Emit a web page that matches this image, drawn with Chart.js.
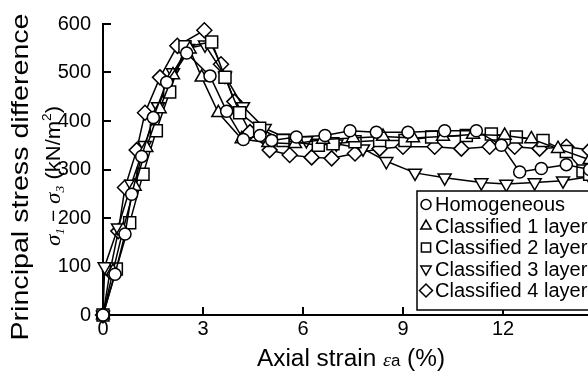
<!DOCTYPE html>
<html>
<head>
<meta charset="utf-8">
<script src="https://cdn.jsdelivr.net/npm/chart.js@4/dist/chart.umd.min.js"></script>
<style>
html,body{margin:0;padding:0;background:#fff;overflow:hidden;width:588px;height:376px;}
canvas{display:block;}
</style>
</head>
<body>
<canvas id="c" width="620" height="376" style="width:620px;height:376px"></canvas>
<script>
// ---- Data (axial strain %, principal stress difference kN/m2) ----
const seriesNames = ["Homogeneous","Classified 1 layer","Classified 2 layer","Classified 3 layer","Classified 4 layer"];

const homX = [0,0.36,0.66,0.86,1.16,1.51,1.91,2.51,3.21,3.71,4.21,4.71,5.06,5.8,6.66,7.41,8.2,9.15,10.25,11.2,11.95,12.5,13.15,13.9,14.6];
const homY = [0,84,167,249,327,407,480,540,493,420,362,370,360,367,370,380,377,377,380,380,350,295,302,310,300];

const c1X = [0,0.3,0.6,0.95,1.3,1.7,2.1,2.6,2.96,3.46,4.16,4.96,5.76,6.6,7.5,8.4,9.3,10.2,11.1,12.05,12.85,13.65,14.6];
const c1Y = [0,90,175,265,345,425,495,548,490,417,363,355,353,362,365,368,365,368,372,370,363,343,320];

const c2X = [0,0.4,0.8,1.2,1.6,2.0,2.46,3.26,3.66,4.1,4.7,5.4,6.46,6.9,7.56,8.3,9.06,9.86,10.9,11.65,12.4,13.2,13.9,14.4,14.6];
const c2Y = [0,95,190,290,380,460,553,563,490,417,385,360,350,353,357,360,360,367,370,373,367,360,337,297,290];

const c3X = [0,0.05,0.45,0.85,1.25,1.65,2.1,2.55,3.06,3.66,4.2,4.85,5.5,6.1,7.0,7.8,8.5,9.36,10.25,11.35,12.1,12.95,13.8,14.6];
const c3Y = [0,100,180,270,350,430,500,550,557,493,430,385,365,360,353,343,317,293,283,273,270,273,277,285];

const c4X = [0,0.21,0.46,0.66,1.01,1.26,1.71,2.23,3.04,3.54,3.94,4.41,5.0,5.6,6.26,6.86,7.56,8.3,9.0,9.95,10.75,11.6,12.35,13.1,13.9,14.6];
const c4Y = [0,90,173,263,340,417,490,555,587,517,440,377,340,330,325,323,333,343,347,347,343,347,347,343,347,340];

const xTicks = [0,3,6,9,12,15];
const yTicks = [0,100,200,300,400,500,600];

const styles = [
  {pointStyle:'circle', radius:6, rotation:0},
  {pointStyle:'triangle', radius:7.5, rotation:0},
  {pointStyle:'rect', radius:8.5, rotation:0},
  {pointStyle:'triangle', radius:7.5, rotation:180},
  {pointStyle:'rectRot', radius:7.5, rotation:0}
];
const xs = [homX,c1X,c2X,c3X,c4X];
const ys = [homY,c1Y,c2Y,c3Y,c4Y];

const datasets = seriesNames.map((n,i)=>({
  label:n,
  data: xs[i].map((x,k)=>({x:x,y:ys[i][k]})),
  showLine:true,
  borderColor:'#000',
  borderWidth:1.5,
  backgroundColor:'#fff',
  pointBackgroundColor:'#fff',
  pointBorderColor:'#000',
  pointBorderWidth:1.5,
  pointStyle:styles[i].pointStyle,
  pointRadius:styles[i].radius,
  pointRotation:styles[i].rotation,
  tension:0,
  clip:false
}));

const FONT = "'Liberation Sans', Arial, sans-serif";
const SERIF = "'Liberation Serif', 'Times New Roman', serif";

function drawMarker(ctx, style, r, rot, x, y){
  ctx.save();
  ctx.fillStyle='#fff'; ctx.strokeStyle='#000'; ctx.lineWidth=1.5;
  ctx.beginPath();
  if(style==='circle'){ ctx.arc(x,y,r,0,Math.PI*2); }
  else if(style==='rect'){ const s=r*Math.SQRT1_2; ctx.rect(x-s,y-s,2*s,2*s); }
  else if(style==='rectRot'){ ctx.moveTo(x-r,y); ctx.lineTo(x,y-r); ctx.lineTo(x+r,y); ctx.lineTo(x,y+r); ctx.closePath(); }
  else if(style==='triangle'){
    let a = rot*Math.PI/180;
    for(let k=0;k<3;k++){
      const px = x + Math.sin(a)*r, py = y - Math.cos(a)*r;
      if(k===0) ctx.moveTo(px,py); else ctx.lineTo(px,py);
      a += 2*Math.PI/3;
    }
    ctx.closePath();
  }
  ctx.fill(); ctx.stroke();
  ctx.restore();
}

function drawSegments(ctx, segs, target){
  let w=0;
  segs.forEach(s=>{ctx.font=s[1]; s.w=ctx.measureText(s[0]).width; w+=s.w;});
  const sc = target ? target/w : 1;
  ctx.save();
  ctx.scale(sc,1);
  let x=-w/2;
  segs.forEach(s=>{ctx.font=s[1]; ctx.fillText(s[0],x,s[2]||0); x+=s.w;});
  ctx.restore();
}

const customPlugin = {
  id:'custom',
  beforeDatasetsDraw(chart){
    const ctx=chart.ctx, xa=chart.scales.x, ya=chart.scales.y, ca=chart.chartArea;
    ctx.save();
    ctx.strokeStyle='#000'; ctx.lineWidth=2;
    ctx.beginPath();
    xa.ticks.forEach(t=>{const p=Math.round(xa.getPixelForValue(t.value)); ctx.moveTo(p,ca.bottom); ctx.lineTo(p,ca.bottom-8);});
    ya.ticks.forEach(t=>{const p=Math.round(ya.getPixelForValue(t.value)); ctx.moveTo(ca.left,p); ctx.lineTo(ca.left+8,p);});
    ctx.stroke();
    ctx.restore();
  },
  afterDraw(chart){
    const ctx=chart.ctx, ca=chart.chartArea;
    // Legend box
    ctx.save();
    const L=417, T=191, B=310, R=660;
    ctx.fillStyle='#fff'; ctx.fillRect(L,T,R-L,B-T);
    ctx.strokeStyle='#000'; ctx.lineWidth=1.5; ctx.strokeRect(L,T,R-L,B-T);
    ctx.fillStyle='#000'; ctx.font='20px '+FONT; ctx.textBaseline='middle'; ctx.textAlign='left';
    const lsz=[5,6,6.5,6,6.5];
    seriesNames.forEach((n,i)=>{
      const y=T+13.5+i*21.5;
      drawMarker(ctx, styles[i].pointStyle, lsz[i], styles[i].rotation, 426, y);
      ctx.fillStyle='#000';
      ctx.fillText(n, 435, y+1);
    });
    ctx.restore();

    // X axis title
    ctx.save();
    ctx.fillStyle='#000'; ctx.textBaseline='alphabetic'; ctx.textAlign='left';
    ctx.translate((ca.left+603)/2-2, 366);
    drawSegments(ctx, [
      ['Axial strain ', '23px '+FONT, 0],
      ['\u03b5', 'italic 19px '+SERIF, 0],
      ['a', '16px '+FONT, 0],
      [' (%)', '23px '+FONT, 0]
    ], 188);
    ctx.restore();

    // Y axis title, line 1
    ctx.save();
    ctx.fillStyle='#000'; ctx.textBaseline='alphabetic'; ctx.textAlign='left';
    ctx.translate(28, 177);
    ctx.rotate(-Math.PI/2);
    drawSegments(ctx, [['Principal stress difference', '24px '+FONT, 0]], 327);
    ctx.restore();

    // Y axis title, line 2
    ctx.save();
    ctx.fillStyle='#000'; ctx.textBaseline='alphabetic'; ctx.textAlign='left';
    ctx.translate(60, 176);
    ctx.rotate(-Math.PI/2);
    drawSegments(ctx, [
      ['\u03c3', 'italic 22px '+SERIF, 0],
      ['1', 'italic 13px '+SERIF, 4],
      [' \u2212 ', '20px '+FONT, 0],
      ['\u03c3', 'italic 22px '+SERIF, 0],
      ['3', 'italic 13px '+SERIF, 4],
      [' (kN/m', '21px '+FONT, 0],
      ['2', '13px '+FONT, -9],
      [')', '21px '+FONT, 0]
    ], 140);
    ctx.restore();
  }
};

new Chart(document.getElementById('c'), {
  type:'scatter',
  data:{datasets:datasets},
  plugins:[customPlugin],
  options:{
    responsive:false,
    animation:false,
    devicePixelRatio:1,
    layout:{padding:{top:15,right:17,left:0,bottom:0}},
    plugins:{legend:{display:false},tooltip:{enabled:false}},
    scales:{
      x:{
        type:'linear', min:0, max:15,
        afterBuildTicks(s){ s.ticks = xTicks.map(v=>({value:v})); },
        afterFit(s){ s.height = 61; },
        grid:{display:true, drawOnChartArea:false, drawTicks:false, color:'rgba(0,0,0,0)'},
        border:{display:true, color:'#000', width:2},
        ticks:{color:'#000', font:{family:FONT, size:20}, padding:2, maxRotation:0}
      },
      y:{
        type:'linear', min:0, max:600,
        afterBuildTicks(s){ s.ticks = yTicks.map(v=>({value:v})); },
        afterFit(s){ s.width = 103; },
        grid:{display:true, drawOnChartArea:false, drawTicks:false, color:'rgba(0,0,0,0)'},
        border:{display:true, color:'#000', width:2},
        ticks:{color:'#000', font:{family:FONT, size:20}, padding:12}
      }
    }
  }
});
</script>
</body>
</html>
